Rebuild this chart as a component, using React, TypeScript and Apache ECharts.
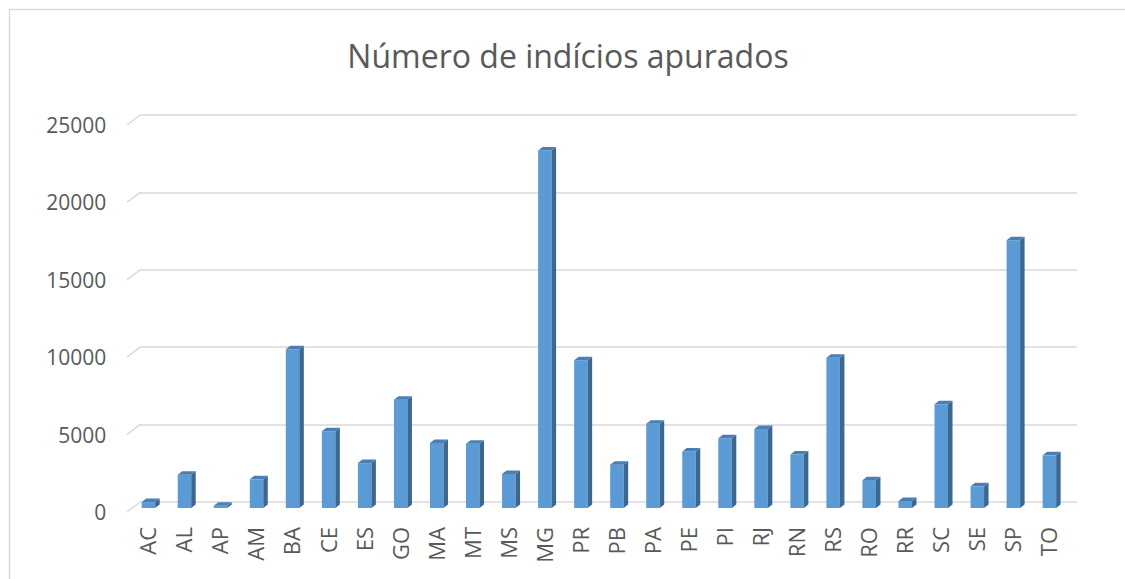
import React, { useEffect, useRef } from "react";
import * as echarts from "echarts";

const categories = ["AC","AL","AP","AM","BA","CE","ES","GO","MA","MT","MS","MG","PR","PB","PA","PE","PI","RJ","RN","RS","RO","RR","SC","SE","SP","TO"];
const values = [380,2150,150,1850,10250,4950,2900,7000,4200,4150,2200,23100,9550,2800,5450,3650,4500,5100,3450,9700,1800,450,6700,1400,17300,3400];
const yTicks = [0, 5000, 10000, 15000, 20000, 25000];
const titleText = "Número de indícios apurados";

export default function App() {
  const ref = useRef<HTMLDivElement>(null);
  useEffect(() => {
    document.body.style.margin = "0";
    const chart = echarts.init(ref.current!, null, { renderer: "svg" });
    const textColor = "#595959";
    const font = "Open Sans";
    const option: any = {
      animation: false,
      textStyle: { fontFamily: font },
      graphic: [
        {
          type: "rect",
          shape: { x: 9.5, y: 9.5, width: 1200, height: 700 },
          style: { fill: "none", stroke: "#d9d9d9", lineWidth: 1.5 },
          silent: true,
        },
        {
          type: "text",
          x: 568,
          y: 55,
          style: {
            text: titleText,
            fill: textColor,
            font: `32px "${font}"`,
            align: "center",
            verticalAlign: "middle",
          },
        },
      ],
      grid: [
        { left: 140, right: 48, top: 115, bottom: 77 },
        { left: 129.3, right: 58.7, top: 125, bottom: 67 },
      ],
      xAxis: [
        {
          type: "category",
          gridIndex: 0,
          data: categories,
          axisLine: { show: false },
          axisTick: { show: false },
          axisLabel: { show: false },
        },
        {
          type: "category",
          gridIndex: 1,
          data: categories,
          axisLine: { show: false },
          axisTick: { show: false },
          axisLabel: {
            rotate: 90,
            margin: 15,
            color: textColor,
            fontSize: 22,
            fontFamily: font,
            interval: 0,
          },
        },
      ],
      yAxis: [
        {
          type: "value",
          gridIndex: 0,
          min: 0,
          max: 25000,
          interval: 5000,
          axisLine: { show: false },
          axisTick: { show: false },
          axisLabel: { show: false },
          splitLine: { lineStyle: { color: "#d9d9d9", width: 1.5 } },
        },
        {
          type: "value",
          gridIndex: 1,
          min: 0,
          max: 25000,
          interval: 5000,
          axisLine: { show: false },
          axisTick: { show: false },
          splitLine: { show: false },
          axisLabel: {
            color: textColor,
            fontSize: 21,
            fontFamily: font,
            margin: 23,
            formatter: (v: number) => String(v),
          },
        },
      ],
      series: [
        {
          type: "custom",
          xAxisIndex: 0,
          yAxisIndex: 0,
          data: yTicks.map((v) => [0, v]),
          silent: true,
          renderItem: (params: any, api: any) => {
            const y = api.coord([0, api.value(1)])[1];
            const x0 = params.coordSys.x;
            return {
              type: "line",
              shape: { x1: x0 - 13, y1: y + 10, x2: x0, y2: y },
              style: { stroke: "#d9d9d9", lineWidth: 1.5 },
            };
          },
        },
        {
          type: "custom",
          xAxisIndex: 0,
          yAxisIndex: 0,
          data: values.map((v, i) => [i, v]),
          renderItem: (params: any, api: any) => {
            const i = api.value(0);
            const v = api.value(1);
            const top = api.coord([i, v]);
            const base = api.coord([i, 0]);
            const cx = top[0];
            const drop = 6;
            const w = 13.5;
            const dx = 4.5;
            const dy = 3.5;
            const left = cx - 9.6 - w / 2;
            const right = left + w;
            const yTop = top[1] + drop;
            const yBot = base[1] + drop;
            return {
              type: "group",
              children: [
                {
                  type: "rect",
                  shape: { x: left, y: yTop, width: w, height: yBot - yTop },
                  style: { fill: "#5b9bd5" },
                },
                {
                  type: "polygon",
                  shape: {
                    points: [
                      [right, yTop],
                      [right + dx, yTop - dy],
                      [right + dx, yBot - dy],
                      [right, yBot],
                    ],
                  },
                  style: { fill: "#3b6791" },
                },
                {
                  type: "polygon",
                  shape: {
                    points: [
                      [left, yTop],
                      [left + dx, yTop - dy],
                      [right + dx, yTop - dy],
                      [right, yTop],
                    ],
                  },
                  style: { fill: "#4a7eb4" },
                },
              ],
            };
          },
        },
      ],
    };
    chart.setOption(option);
    return () => chart.dispose();
  }, []);
  return <div ref={ref} style={{ width: 1125, height: 579 }} />;
}
